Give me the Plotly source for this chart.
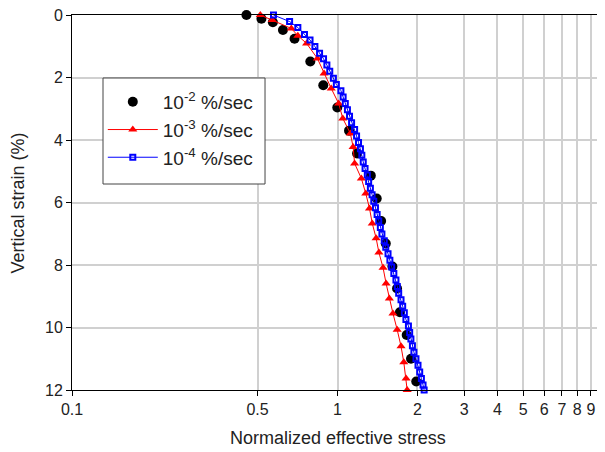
import plotly.graph_objects as go

# Normalized effective stress (x) vs vertical strain % (y)
fast_x = [0.454, 0.517, 0.571, 0.623, 0.689, 0.790, 0.884, 0.998, 1.105, 1.185, 1.335, 1.405,
          1.460, 1.520, 1.610, 1.676, 1.718, 1.822, 1.892, 1.980]
fast_y = [0.0, 0.12, 0.23, 0.48, 0.76, 1.49, 2.25, 2.96, 3.70, 4.43, 5.14, 5.87,
          6.59, 7.31, 8.05, 8.75, 9.51, 10.24, 11.00, 11.73]

mid_x = [0.512, 0.568, 0.670, 0.709, 0.765, 0.840, 0.890, 0.947, 1.010, 1.047, 1.118, 1.145,
         1.160, 1.230, 1.278, 1.320, 1.352, 1.398, 1.432, 1.485, 1.524, 1.568, 1.618, 1.678,
         1.735, 1.777, 1.813, 1.830]
mid_y = [0.0, 0.16, 0.43, 0.66, 0.91, 1.39, 1.87, 2.35, 2.83, 3.31, 3.79, 4.22,
         4.75, 5.23, 5.71, 6.19, 6.67, 7.14, 7.60, 8.09, 8.59, 9.07, 9.55, 10.07,
         10.60, 11.11, 11.63, 12.0]

slow_x = [0.574, 0.660, 0.709, 0.751, 0.788, 0.822, 0.856, 0.886, 0.912, 0.935,
          0.965, 0.990, 1.030, 1.050, 1.070, 1.090, 1.110, 1.130, 1.160, 1.180,
          1.200, 1.220, 1.235, 1.250, 1.270, 1.295, 1.310, 1.330, 1.350, 1.370,
          1.390, 1.410, 1.430, 1.450, 1.470, 1.500, 1.520, 1.550, 1.575, 1.600,
          1.630, 1.660, 1.680, 1.700, 1.735, 1.760, 1.785, 1.810, 1.850, 1.870,
          1.890, 1.915, 1.940, 1.975, 2.010, 2.040, 2.070, 2.100, 2.120]
slow_y = [0.0, 0.21, 0.40, 0.62, 0.80, 1.01, 1.22, 1.40, 1.60, 1.80,
          2.02, 2.22, 2.42, 2.62, 2.83, 3.03, 3.24, 3.45, 3.66, 3.87,
          4.08, 4.28, 4.49, 4.70, 4.91, 5.12, 5.33, 5.54, 5.75, 5.96,
          6.17, 6.38, 6.59, 6.80, 7.01, 7.22, 7.43, 7.64, 7.85, 8.06,
          8.27, 8.48, 8.69, 8.90, 9.11, 9.32, 9.53, 9.74, 9.95, 10.16,
          10.37, 10.58, 10.79, 11.00, 11.21, 11.42, 11.63, 11.84, 12.0]

x_tickvals = [0.1, 0.5, 1, 2, 3, 4, 5, 6, 7, 8, 9]
x_ticktext = ["0.1", "0.5", "1", "2", "3", "4", "5", "6", "7", "8", "9"]
y_tickvals = [0, 2, 4, 6, 8, 10, 12]

names = ["10<sup>-2</sup> %/sec", "10<sup>-3</sup> %/sec", "10<sup>-4</sup> %/sec"]
x_title = "Normalized effective stress"
y_title = "Vertical strain (%)"

FONT = "Liberation Sans, Arial, sans-serif"
TXT = "#222"

fig = go.Figure()
fig.add_trace(go.Scatter(x=fast_x, y=fast_y, mode="markers", name=names[0],
                         marker=dict(symbol="circle", size=10, color="black"),
                         cliponaxis=False))
fig.add_trace(go.Scatter(x=mid_x, y=mid_y, mode="lines+markers", name=names[1],
                         line=dict(color="#ff0000", width=1),
                         marker=dict(symbol="triangle-up", size=8, color="#ff0000"),
                         cliponaxis=False))
fig.add_trace(go.Scatter(x=slow_x, y=slow_y, mode="lines+markers", name=names[2],
                         line=dict(color="#0000ff", width=1),
                         marker=dict(symbol="square-open", size=5, color="#0000ff",
                                     line=dict(width=2, color="#0000ff")),
                         cliponaxis=False))

# page body adds an 8px offset; figure sized so the plot area lands at x 72..603, y 15..390
fig.update_layout(
    width=597, height=444,
    margin=dict(l=64, r=2, t=7, b=62, autoexpand=False),
    paper_bgcolor="white", plot_bgcolor="white",
    font=dict(family=FONT, size=16, color=TXT),
    showlegend=True,
    legend=dict(x=0.058, y=0.8187, xanchor="left", yanchor="top",
                bgcolor="rgba(0,0,0,0)", borderwidth=0, itemwidth=50,
                font=dict(family=FONT, size=19, color=TXT),
                tracegroupgap=0),
    shapes=[dict(type="rect", xref="paper", yref="paper",
                 x0=0.0584, x1=0.3635, y0=0.5493, y1=0.832,
                 fillcolor="white", line=dict(color="#444", width=1), layer="above")],
    xaxis=dict(type="log", range=[-1, 1], tickvals=x_tickvals, ticktext=x_ticktext,
               showline=True, linecolor="black", linewidth=1, mirror=True,
               ticks="outside", ticklen=5, tickcolor="black", automargin=False,
               ticklabeloverflow="allow",
               showgrid=True, gridcolor="#d0d0d0", gridwidth=1.5, zeroline=False,
               tickfont=dict(size=16)),
    yaxis=dict(range=[12, 0], tickvals=y_tickvals,
               showline=True, linecolor="black", linewidth=1, mirror=True,
               ticks="outside", ticklen=5, tickcolor="black", automargin=False,
               ticklabeloverflow="allow",
               showgrid=True, gridcolor="#d0d0d0", gridwidth=1.5, zeroline=False,
               tickfont=dict(size=16)),
    annotations=[
        dict(text=x_title, xref="paper", yref="paper", x=0.5, y=-0.128,
             xanchor="center", yanchor="middle", showarrow=False,
             font=dict(family=FONT, size=18, color=TXT)),
        dict(text=y_title, xref="paper", yref="paper", x=-0.1017, y=0.5,
             xanchor="center", yanchor="middle", showarrow=False, textangle=-90,
             font=dict(family=FONT, size=18, color=TXT)),
    ],
)

fig.write_html("out.html")
